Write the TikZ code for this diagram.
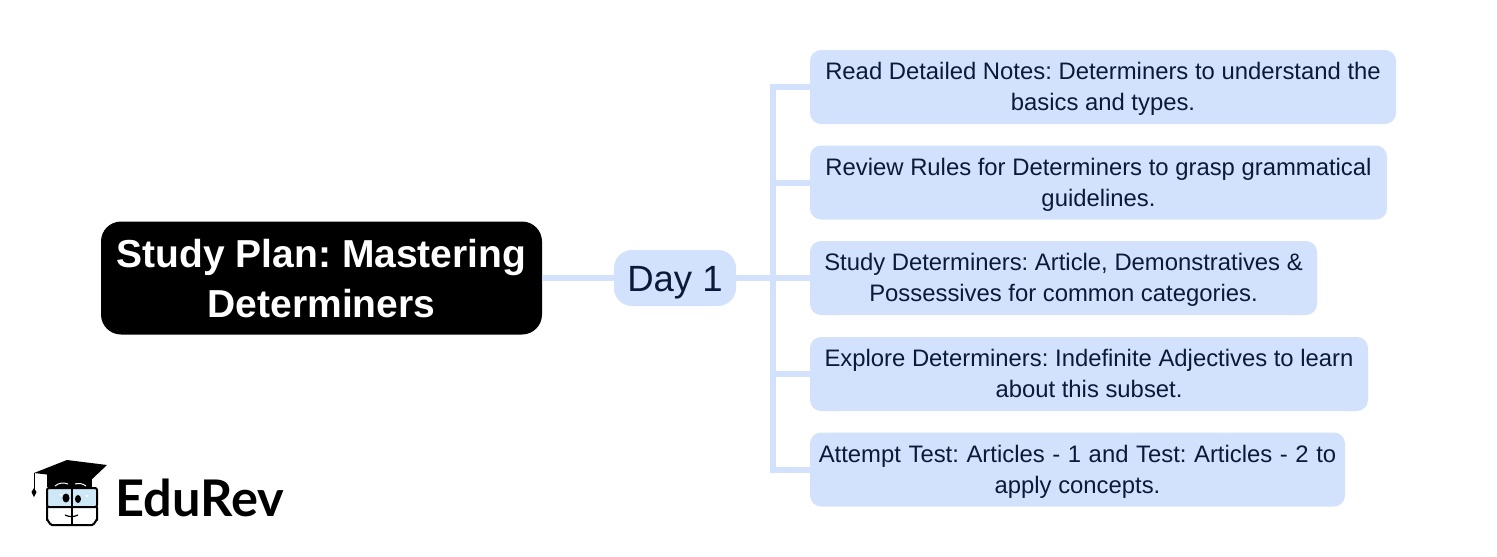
\documentclass[tikz,border=0pt]{standalone}
\usepackage{fontspec}
\setmainfont{Liberation Sans}
\newfontfamily\logofont{Lato}
\definecolor{boxfill}{HTML}{D2E2FC}
\definecolor{boxtext}{HTML}{0A1A3A}
\definecolor{lenscol}{HTML}{CFE8F8}
\frenchspacing
\newcommand{\leaftop}{\rule{0pt}{25.7pt}}
\newcommand{\roottop}{\rule{0pt}{43pt}}
\newcommand{\daytop}{\rule{0pt}{38pt}}
\tikzset{
  leaf/.style={fill=boxfill,text=boxtext,rounded corners=11pt,inner sep=0pt,align=center,
    minimum height=74pt,font=\fontsize{23.85}{31}\selectfont},
  daybox/.style={fill=boxfill,text=boxtext,rounded corners=18pt,inner sep=0pt,
    minimum width=122pt,minimum height=56pt,font=\fontsize{36.5}{40}\selectfont},
  rootbox/.style={fill=black,text=white,rounded corners=20pt,inner sep=0pt,align=center,
    minimum width=441pt,minimum height=113pt,font=\fontsize{39}{50}\selectfont\bfseries},
  link/.style={draw=boxfill,line width=6pt},
  logoline/.style={draw=black,line width=2pt,line join=round,line cap=round}
}
\begin{document}
\begin{tikzpicture}[x=1pt,y=-1pt]
\useasboundingbox (0,0) rectangle (1497,557);
\coordinate (spine) at (773,278);
\node[rootbox] (root) at (321.5,278) {\roottop Study Plan: Mastering\strut\\\strut Determiners\strut};
\node[daybox] (day) at (675,278) {\daytop Day 1\strut};
\node[leaf,minimum width=586pt] (n1) at (1103,87) {\leaftop Read Detailed Notes: Determiners to understand the\strut\\\strut basics and types.\strut};
\node[leaf,minimum width=577pt] (n2) at (1098.5,182.5) {\leaftop Review Rules for Determiners to grasp grammatical\strut\\\strut guidelines.\strut};
\node[leaf,minimum width=507pt] (n3) at (1063.5,278) {\leaftop Study Determiners: Article, Demonstratives \&\strut\\\strut Possessives for common categories.\strut};
\node[leaf,minimum width=558pt] (n4) at (1089,374) {\leaftop Explore Determiners: Indefinite Adjectives to learn\strut\\\strut about this subset.\strut};
\node[leaf,minimum width=535pt] (n5) at (1077.5,469.5) {\leaftop {\spaceskip=7.6pt Attempt Test: Articles - 1 and Test: Articles - 2 to}\strut\\\strut apply concepts.\strut};
\draw[link] (root.east) -- (day.west);
\draw[link] (day.east) -- (n3.west);
\draw[link] (n1.west) -| (spine) |- (n5.west);
\draw[link] (spine) |- (n2.west);
\draw[link] (spine) |- (n4.west);
% logo
\node[font=\logofont\bfseries\fontsize{50.5}{60}\selectfont,text=black,anchor=west,inner sep=0pt] (brand) at (115.5,498) {EduRev};
\fill[black] (47,487) -- (47,474) -- (92,474) -- (92,487) -- cycle;
\fill[black] (34,473) -- (67,460) -- (107,465) -- (88,483) -- (68,477) -- cycle;
\draw[white,line width=1pt] (55,486) to[bend left=30] (68,484);
\draw[white,line width=1pt] (75,484) to[bend left=25] (86,486);
\draw[black,line width=1pt] (34,473) -- (34,490);
\fill[black] (34,488) -- (36.5,492) -- (34,497) -- (31.5,492) -- cycle;
\draw[logoline,fill=lenscol,rounded corners=2pt] (47,488) rectangle (97,507);
\draw[logoline] (47,507) -- (47,520) to[out=90,in=180] (52,525) -- (92,525) to[out=0,in=90] (97,520) -- (97,507);
\draw[draw=black,line width=1.5pt] (72,487) -- (72,525);
\fill[black] (66,498) ellipse (3.5pt and 4.5pt);
\fill[black] (78,499) ellipse (3pt and 4pt);
\fill[white] (60,494) rectangle (62,496) (86,495) rectangle (88,497);
\draw[black,line width=1.2pt] (65,515) to[bend right=25] (78,515);
\end{tikzpicture}
\end{document}
